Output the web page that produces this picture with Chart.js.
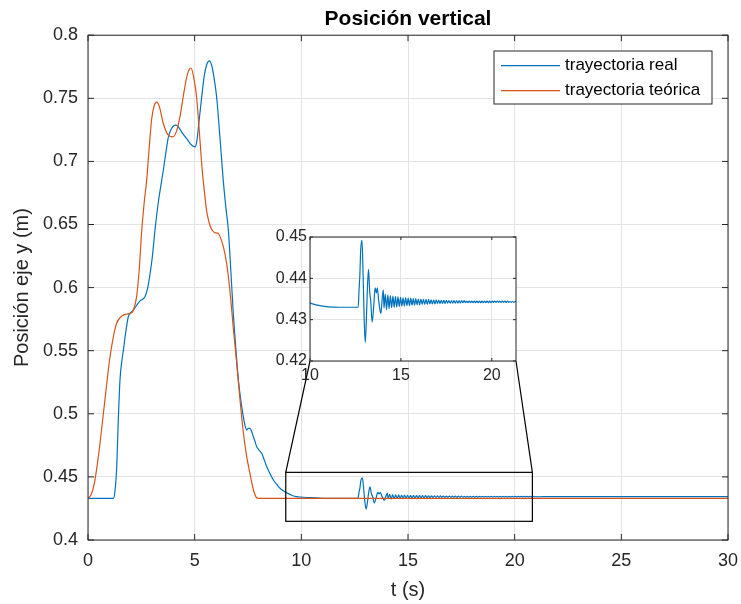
<!DOCTYPE html>
<html>
<head>
<meta charset="utf-8">
<script src="https://cdn.jsdelivr.net/npm/chart.js@4.4.1/dist/chart.umd.min.js"></script>
<style>
  html, body { margin: 0; padding: 0; background: #fff; }
  #wrap { position: relative; width: 741px; height: 604px; }
  #main { position: absolute; left: 0; top: 0; }
  #inset { position: absolute; }
</style>
</head>
<body>
<div id="wrap">
  <canvas id="main" width="741" height="604"></canvas>
  <canvas id="inset"></canvas>
</div>
<script>
// Vertical position: measured trajectory vs. reference trajectory
const FONT = '"Liberation Sans", Arial, Helvetica, sans-serif';
const BLUE = '#0072BD';
const ORANGE = '#D95319';
const GRID = '#e3e3e3';
const AXIS = '#262626';

// reference (theoretical) trajectory
const tTeo = [0, 0.15, 0.3, 0.5, 0.72, 0.9, 1.03, 1.2, 1.34, 1.55, 1.81, 2.05, 2.18, 2.28, 2.4, 2.52,
  2.65, 2.75, 2.87, 2.98, 3.1, 3.22, 3.35, 3.53, 3.75, 3.97, 4.15, 4.31, 4.47, 4.63, 4.75, 4.83,
  4.95, 5.09, 5.2, 5.33, 5.45, 5.56, 5.67, 5.8, 5.95, 6.1, 6.2, 6.35, 6.5, 6.65, 6.8, 6.97,
  7.12, 7.27, 7.42, 7.6, 7.75, 7.88, 8.0, 30];
const yTeo = [0.433, 0.436, 0.445, 0.468, 0.500, 0.527, 0.545, 0.562, 0.5716, 0.577, 0.579, 0.580, 0.585, 0.593, 0.614, 0.6455,
  0.670, 0.685, 0.711, 0.733, 0.744, 0.747, 0.743, 0.730, 0.721, 0.7195, 0.724, 0.7353, 0.752, 0.767, 0.773, 0.774,
  0.767, 0.751, 0.728, 0.698, 0.677, 0.661, 0.652, 0.646, 0.6435, 0.643, 0.640, 0.632, 0.619, 0.598, 0.570, 0.540,
  0.512, 0.487, 0.468, 0.452, 0.440, 0.434, 0.433, 0.433];

// measured (real) trajectory
const tReal = [0, 1.19, 1.26, 1.34, 1.42, 1.5, 1.58, 1.66, 1.78, 1.89, 2.0, 2.12, 2.28, 2.44, 2.58, 2.67,
  2.8, 2.91, 3.02, 3.14, 3.3, 3.53, 3.65, 3.77, 3.9, 4.0, 4.125, 4.25, 4.4, 4.63, 4.85, 5.02,
  5.1, 5.2, 5.33, 5.45, 5.57, 5.69, 5.8, 5.92, 6.03, 6.18, 6.34, 6.46, 6.58, 6.7, 6.81, 6.93,
  7.05, 7.17, 7.28, 7.37, 7.44, 7.52, 7.59, 7.67, 7.75, 7.83, 7.91, 8.0, 8.14, 8.25, 8.38, 8.55,
  8.69, 8.85, 9.0, 9.15, 9.31, 9.55, 9.78, 10.0, 10.4, 11.0, 11.6, 12.65, 12.70, 12.74, 12.79, 12.86,
  12.92, 12.98, 13.04, 13.10, 13.16, 13.22, 13.28, 13.34, 13.42, 13.50, 13.58, 13.65, 13.70, 13.78, 13.86, 13.90,
  13.96, 14.03,
  14.07, 14.14, 14.21, 14.28, 14.35, 14.42, 14.49, 14.56, 14.63, 14.70,
  14.77, 14.84, 14.91, 14.98, 15.05, 15.12, 15.19, 15.26, 15.33, 15.40,
  15.47, 15.54, 15.61, 15.68, 15.75, 15.82, 15.89, 15.96, 16.03, 16.10,
  16.17, 16.24, 16.31, 16.38, 16.45, 16.52, 16.59, 16.66, 16.73, 16.80,
  16.87, 16.94, 17.01, 17.08, 17.15, 17.22, 17.29, 17.36, 17.43, 17.50,
  17.57, 17.64, 17.71, 17.78, 17.85, 17.92, 17.99, 18.06, 18.13, 18.20,
  18.27, 18.34, 18.41, 18.48, 18.55, 18.62, 18.69, 18.76, 18.83, 18.90,
  18.97, 19.04, 19.11, 19.18, 19.25, 19.32, 19.39, 19.46, 19.53, 19.60,
  19.67, 19.74, 19.81, 19.88, 19.95, 20.02, 20.09, 20.16, 20.23, 20.30,
  20.37, 20.44, 20.51, 20.58, 20.65, 20.72, 20.79, 20.86, 20.93, 21.00,
  21.07, 21.14, 21.21, 21.28, 21.35, 30];
const yReal = [0.433, 0.433, 0.438, 0.4554, 0.495, 0.527, 0.541, 0.5505, 0.566, 0.5769, 0.580, 0.582, 0.586, 0.5895, 0.591, 0.5927,
  0.600, 0.611, 0.625, 0.6455, 0.668, 0.693, 0.707, 0.7195, 0.7255, 0.728, 0.7287, 0.727, 0.723, 0.718, 0.713, 0.7115,
  0.716, 0.731, 0.751, 0.768, 0.777, 0.7797, 0.776, 0.765, 0.751, 0.720, 0.685, 0.664, 0.6455, 0.612, 0.5796, 0.552,
  0.5267, 0.510, 0.4977, 0.490, 0.4871, 0.4885, 0.4885, 0.486, 0.4818, 0.478, 0.4739, 0.4715, 0.4687, 0.464, 0.458, 0.452,
  0.4475, 0.444, 0.441, 0.439, 0.4375, 0.4355, 0.4343, 0.434, 0.4335, 0.4331, 0.433, 0.433, 0.4375, 0.4405, 0.447, 0.4492,
  0.441, 0.430, 0.4245, 0.430, 0.438, 0.4422, 0.437, 0.4345, 0.4294, 0.433, 0.4377, 0.4365, 0.4377, 0.4345, 0.4320, 0.4315,
  0.4345, 0.4372,
  0.4328, 0.4362, 0.4324, 0.4360, 0.4327, 0.4358, 0.4329, 0.4357, 0.4330, 0.4356,
  0.4331, 0.4355, 0.4332, 0.4354, 0.4333, 0.4353, 0.4333, 0.4353, 0.4334, 0.4352,
  0.4334, 0.4352, 0.4335, 0.4351, 0.4335, 0.4351, 0.4336, 0.4350, 0.4336, 0.4350,
  0.4337, 0.4349, 0.4337, 0.4349, 0.4337, 0.4349, 0.4338, 0.4348, 0.4338, 0.4348,
  0.4338, 0.4348, 0.4339, 0.4347, 0.4339, 0.4347, 0.4339, 0.4347, 0.4339, 0.4347,
  0.4340, 0.4346, 0.4340, 0.4346, 0.4340, 0.4346, 0.4340, 0.4346, 0.4340, 0.4346,
  0.4340, 0.4346, 0.4341, 0.4346, 0.4341, 0.4345, 0.4341, 0.4345, 0.4341, 0.4345,
  0.4341, 0.4345, 0.4341, 0.4345, 0.4341, 0.4345, 0.4341, 0.4345, 0.4341, 0.4345,
  0.4341, 0.4345, 0.4341, 0.4345, 0.4341, 0.4345, 0.4342, 0.4345, 0.4342, 0.4345,
  0.4342, 0.4345, 0.4342, 0.4345, 0.4342, 0.4345, 0.4342, 0.4345, 0.4342, 0.4344,
  0.4342, 0.4344, 0.4342, 0.4344, 0.4343, 0.4343];

// axes ticks
const xTicks = [0, 5, 10, 15, 20, 25, 30];
const yTicks = [0.4, 0.45, 0.5, 0.55, 0.6, 0.65, 0.7, 0.75, 0.8];
const insetXTicks = [10, 15, 20];
const insetYTicks = [0.42, 0.43, 0.44, 0.45];

// zoomed window (data units) and inset axes limits
const zoomX = [9.27, 20.83];
const zoomY = [0.4148, 0.4536];
const insetX = [10, 21.33];
const insetY = [0.42, 0.45];

// page placement of the inset plot box and the legend box
const INSET = { left: 310, top: 237, right: 516, bottom: 361 };
const IN_PAD = { left: 42, top: 12, right: 16, bottom: 30 };
const LEGEND = { left: 494, top: 51, right: 712, bottom: 104 };

const toPoints = (t, y) => t.map((v, i) => ({ x: v, y: y[i] }));
const setTicks = list => s => { s.ticks = list.map(v => ({ value: v })); };
// fixed axis band size; label overhang is handled by the page margins
const fixSize = (prop, size) => s => {
  s[prop] = size;
  s.paddingLeft = 0; s.paddingRight = 0; s.paddingTop = 0; s.paddingBottom = 0;
};

// box around the plot area with inward tick marks on all four sides
function boxFrame(tickLen) {
  return {
    id: 'boxFrame',
    beforeDraw(chart) {
      const { ctx, chartArea: a } = chart;
      ctx.save();
      ctx.fillStyle = '#fff';
      ctx.fillRect(a.left, a.top, a.right - a.left, a.bottom - a.top);
      ctx.restore();
    },
    afterDatasetsDraw(chart) {
      const { ctx, chartArea: a, scales: { x, y } } = chart;
      ctx.save();
      ctx.strokeStyle = AXIS;
      ctx.lineWidth = 1;
      ctx.beginPath();
      x.ticks.forEach(t => {
        const px = x.getPixelForValue(t.value);
        ctx.moveTo(px, a.bottom); ctx.lineTo(px, a.bottom - tickLen);
        ctx.moveTo(px, a.top); ctx.lineTo(px, a.top + tickLen);
      });
      y.ticks.forEach(t => {
        const py = y.getPixelForValue(t.value);
        ctx.moveTo(a.left, py); ctx.lineTo(a.left + tickLen, py);
        ctx.moveTo(a.right, py); ctx.lineTo(a.right - tickLen, py);
      });
      ctx.stroke();
      ctx.strokeRect(a.left, a.top, a.right - a.left, a.bottom - a.top);
      ctx.restore();
    }
  };
}

// zoom window, connector lines to the inset, and legend
const overlay = {
  id: 'overlay',
  afterDraw(chart) {
    const { ctx, scales: { x, y } } = chart;
    const x0 = x.getPixelForValue(zoomX[0]);
    const x1 = x.getPixelForValue(zoomX[1]);
    const yTop = y.getPixelForValue(zoomY[1]);
    const yBot = y.getPixelForValue(zoomY[0]);
    ctx.save();
    ctx.strokeStyle = '#000';
    ctx.lineWidth = 1.2;
    ctx.strokeRect(x0, yTop, x1 - x0, yBot - yTop);
    ctx.beginPath();
    ctx.moveTo(x0, yTop); ctx.lineTo(INSET.left, INSET.bottom);
    ctx.moveTo(x1, yTop); ctx.lineTo(INSET.right, INSET.bottom);
    ctx.stroke();

    // legend
    ctx.fillStyle = '#fff';
    ctx.fillRect(LEGEND.left, LEGEND.top, LEGEND.right - LEGEND.left, LEGEND.bottom - LEGEND.top);
    ctx.strokeStyle = AXIS;
    ctx.lineWidth = 1;
    ctx.strokeRect(LEGEND.left, LEGEND.top, LEGEND.right - LEGEND.left, LEGEND.bottom - LEGEND.top);
    const items = [chart.data.datasets[1], chart.data.datasets[0]];
    ctx.font = '17px ' + FONT;
    ctx.textBaseline = 'middle';
    ctx.textAlign = 'left';
    items.forEach((ds, i) => {
      const ry = LEGEND.top + 14.7 + i * 25;
      ctx.strokeStyle = ds.borderColor;
      ctx.lineWidth = 1.2;
      ctx.beginPath();
      ctx.moveTo(LEGEND.left + 7, ry); ctx.lineTo(LEGEND.left + 66, ry);
      ctx.stroke();
      ctx.fillStyle = '#000';
      ctx.fillText(ds.label, LEGEND.left + 71, ry);
    });
    ctx.restore();
  }
};

const tickFont = size => ({ family: FONT, size: size });

new Chart(document.getElementById('main'), {
  type: 'line',
  data: {
    datasets: [
      { label: 'trayectoria teórica', data: toPoints(tTeo, yTeo), borderColor: ORANGE, borderWidth: 1.2,
        pointRadius: 0, cubicInterpolationMode: 'monotone', order: 0 },
      { label: 'trayectoria real', data: toPoints(tReal, yReal), borderColor: BLUE, borderWidth: 1.2,
        pointRadius: 0, cubicInterpolationMode: 'monotone', order: 1 }
    ]
  },
  options: {
    responsive: false,
    animation: false,
    devicePixelRatio: 1,
    layout: { padding: { left: 0, right: 13, top: 0, bottom: 0 } },
    plugins: {
      legend: { display: false },
      tooltip: { enabled: false },
      title: {
        display: true, text: 'Posición vertical', fullSize: false, color: '#000',
        font: { family: FONT, size: 21, weight: 'bold' }, padding: { top: 7, bottom: 3 }
      }
    },
    scales: {
      x: {
        type: 'linear', min: 0, max: 30,
        afterBuildTicks: setTicks(xTicks),
        afterFit: fixSize('height', 64),
        grid: { color: GRID, drawTicks: false },
        border: { display: false },
        ticks: { padding: 10, color: AXIS, font: tickFont(18), maxRotation: 0, autoSkip: false, callback: v => String(v) },
        title: { display: true, text: 't (s)', color: AXIS, font: tickFont(20), padding: { top: 0, bottom: 2 } }
      },
      y: {
        type: 'linear', min: 0.4, max: 0.8,
        afterBuildTicks: setTicks(yTicks),
        afterFit: fixSize('width', 88),
        grid: { color: GRID, drawTicks: false },
        border: { display: false },
        ticks: { padding: 10, color: AXIS, font: tickFont(18), autoSkip: false, callback: v => String(v) },
        title: { display: true, text: 'Posición eje y (m)', color: AXIS, font: tickFont(20), padding: { top: 10, bottom: 0 } }
      }
    }
  },
  plugins: [boxFrame(6), overlay]
});

// inset: close-up of the measured trajectory
const insetCanvas = document.getElementById('inset');
const insetW = INSET.right - INSET.left + IN_PAD.left + IN_PAD.right;
const insetH = INSET.bottom - INSET.top + IN_PAD.top + IN_PAD.bottom;
insetCanvas.width = insetW;
insetCanvas.height = insetH;
insetCanvas.style.left = (INSET.left - IN_PAD.left) + 'px';
insetCanvas.style.top = (INSET.top - IN_PAD.top) + 'px';

new Chart(insetCanvas, {
  type: 'line',
  data: {
    datasets: [
      { label: 'trayectoria real', data: toPoints(tReal, yReal), borderColor: BLUE, borderWidth: 1.2,
        pointRadius: 0, cubicInterpolationMode: 'monotone' }
    ]
  },
  options: {
    responsive: false,
    animation: false,
    devicePixelRatio: 1,
    layout: { padding: { left: 0, right: IN_PAD.right, top: IN_PAD.top, bottom: 0 } },
    plugins: { legend: { display: false }, tooltip: { enabled: false }, title: { display: false } },
    scales: {
      x: {
        type: 'linear', min: insetX[0], max: insetX[1],
        afterBuildTicks: setTicks(insetXTicks),
        afterFit: fixSize('height', IN_PAD.bottom),
        grid: { color: GRID, drawTicks: false },
        border: { display: false },
        ticks: { padding: 5, color: AXIS, font: tickFont(16), maxRotation: 0, autoSkip: false, callback: v => String(v) }
      },
      y: {
        type: 'linear', min: insetY[0], max: insetY[1],
        afterBuildTicks: setTicks(insetYTicks),
        afterFit: fixSize('width', IN_PAD.left),
        grid: { color: GRID, drawTicks: false },
        border: { display: false },
        ticks: { padding: 3, color: AXIS, font: tickFont(16), autoSkip: false, callback: v => String(v) }
      }
    }
  },
  plugins: [boxFrame(3)]
});
</script>
</body>
</html>
